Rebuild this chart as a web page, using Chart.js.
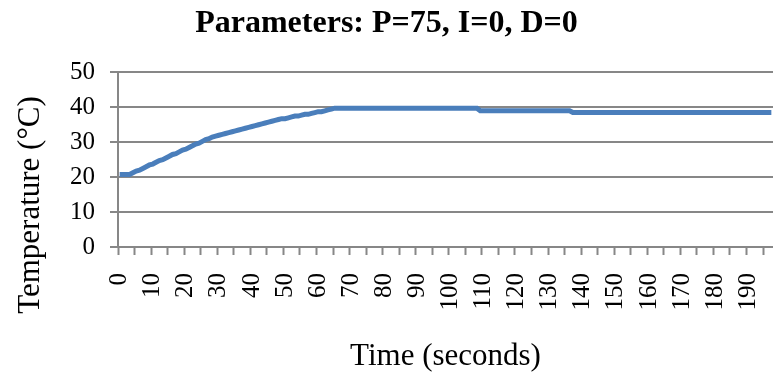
<!DOCTYPE html>
<html>
<head>
<meta charset="utf-8">
<script src="https://cdn.jsdelivr.net/npm/chart.js@4"></script>
<style>
  html, body { margin: 0; padding: 0; background: #fff; }
  #wrap { width: 773px; height: 377px; }
</style>
</head>
<body>
<div id="wrap"><canvas id="tempChart"></canvas></div>
<script>
// one reading per second, in degrees C
const temperature = [
	20.75, 20.75, 20.75, 20.75, 21.25, 21.75, 22.0, 22.5, 23.0, 23.5,
	23.75, 24.25, 24.75, 25.0, 25.5, 26.0, 26.5, 26.75, 27.25, 27.75,
	28.0, 28.5, 29.0, 29.5, 29.75, 30.25, 30.75, 31.0, 31.5, 31.75,
	32.0, 32.25, 32.5, 32.75, 33.0, 33.25, 33.5, 33.75, 34.0, 34.25,
	34.5, 34.75, 35.0, 35.25, 35.5, 35.75, 36.0, 36.25, 36.5, 36.75,
	36.75, 37.0, 37.25, 37.5, 37.5, 37.75, 38.0, 38.0, 38.25, 38.5,
	38.75, 38.75, 39.0, 39.25, 39.5, 39.75, 39.75, 39.75, 39.75, 39.75,
	39.75, 39.75, 39.75, 39.75, 39.75, 39.75, 39.75, 39.75, 39.75, 39.75,
	39.75, 39.75, 39.75, 39.75, 39.75, 39.75, 39.75, 39.75, 39.75, 39.75,
	39.75, 39.75, 39.75, 39.75, 39.75, 39.75, 39.75, 39.75, 39.75, 39.75,
	39.75, 39.75, 39.75, 39.75, 39.75, 39.75, 39.75, 39.75, 39.75, 39.0,
	39.0, 39.0, 39.0, 39.0, 39.0, 39.0, 39.0, 39.0, 39.0, 39.0,
	39.0, 39.0, 39.0, 39.0, 39.0, 39.0, 39.0, 39.0, 39.0, 39.0,
	39.0, 39.0, 39.0, 39.0, 39.0, 39.0, 39.0, 38.5, 38.5, 38.5,
	38.5, 38.5, 38.5, 38.5, 38.5, 38.5, 38.5, 38.5, 38.5, 38.5,
	38.5, 38.5, 38.5, 38.5, 38.5, 38.5, 38.5, 38.5, 38.5, 38.5,
	38.5, 38.5, 38.5, 38.5, 38.5, 38.5, 38.5, 38.5, 38.5, 38.5,
	38.5, 38.5, 38.5, 38.5, 38.5, 38.5, 38.5, 38.5, 38.5, 38.5,
	38.5, 38.5, 38.5, 38.5, 38.5, 38.5, 38.5, 38.5, 38.5, 38.5,
	38.5, 38.5, 38.5, 38.5, 38.5, 38.5, 38.5, 38.5
];
const seconds = temperature.map((_, i) => i);
const timeLabels = [0, 10, 20, 30, 40, 50, 60, 70, 80, 90, 100, 110, 120, 130, 140, 150, 160, 170, 180, 190];
const tempTicks = [0, 10, 20, 30, 40, 50];

const serif = "'Liberation Serif', 'Times New Roman', serif";
const grey = '#878787';

// the y title sits a bit below the middle of the plot, so it is drawn by hand
const yTitle = {
	id: 'yTitle',
	afterDraw(chart) {
		const ctx = chart.ctx;
		ctx.save();
		ctx.translate(31, 205);
		ctx.rotate(-Math.PI / 2);
		ctx.font = '31px ' + serif;
		ctx.fillStyle = '#000';
		ctx.textAlign = 'center';
		ctx.textBaseline = 'middle';
		ctx.fillText('Temperature (°C)', 0, 0);
		ctx.restore();
	}
};

new Chart(document.getElementById('tempChart'), {
	type: 'line',
	data: {
		labels: seconds,
		datasets: [{
			label: 'Temperature',
			data: temperature,
			borderColor: '#4a7ebb',
			borderWidth: 5,
			pointRadius: 0,
			fill: false,
			tension: 0
		}]
	},
	options: {
		responsive: true,
		maintainAspectRatio: false,
		animation: false,
		layout: { padding: 0 },
		plugins: {
			legend: { display: false },
			tooltip: { enabled: false },
			title: {
				display: true,
				text: 'Parameters: P=75, I=0, D=0',
				color: '#000',
				font: { family: serif, size: 32, weight: 'bold' },
				padding: { top: 5, bottom: 29 }
			}
		},
		scales: {
			x: {
				type: 'category',
				offset: true,
				afterFit: (scale) => {
					scale.height = 130;
					scale.paddingLeft = 0;
					scale.paddingRight = 0;
				},
				grid: {
					offset: true,
					drawOnChartArea: false,
					drawTicks: true,
					tickLength: 8,
					tickWidth: 2,
					tickColor: (c) => (c.index % 5 === 0 ? grey : 'rgba(0,0,0,0)')
				},
				border: { color: grey, width: 2 },
				ticks: {
					autoSkip: false,
					maxRotation: 90,
					minRotation: 90,
					padding: 18,
					color: '#000',
					font: { family: serif, size: 25 },
					callback: function (value) {
						const s = this.getLabelForValue(value);
						return timeLabels.includes(Number(s)) ? s : '';
					}
				},
				title: {
					display: true,
					text: 'Time (seconds)',
					color: '#000',
					font: { family: serif, size: 31 },
					padding: { top: 0, bottom: 2 }
				}
			},
			y: {
				min: 0,
				max: 50,
				afterFit: (scale) => { scale.width = 118; },
				afterBuildTicks: (scale) => { scale.ticks = tempTicks.map(v => ({ value: v })); },
				grid: {
					color: grey,
					lineWidth: 2,
					tickLength: 8,
					drawTicks: true
				},
				border: { color: grey, width: 2 },
				ticks: {
					padding: 15,
					color: '#000',
					font: { family: serif, size: 25 }
				}
			}
		}
	},
	plugins: [yTitle]
});
</script>
</body>
</html>
